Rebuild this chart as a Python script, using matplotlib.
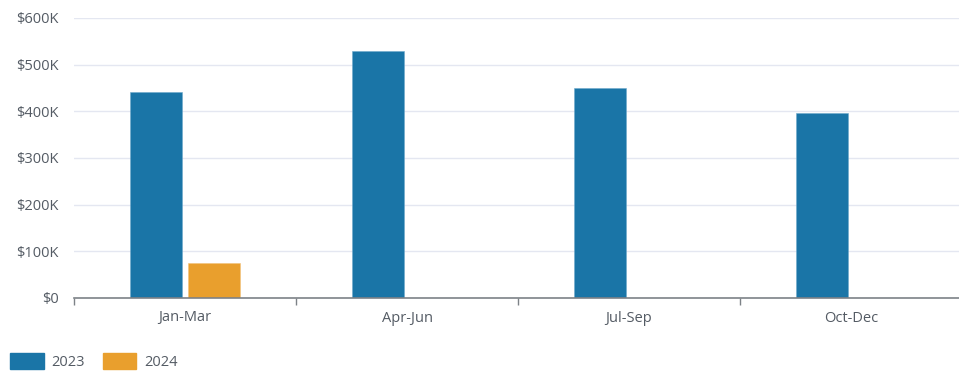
import matplotlib
matplotlib.use("Agg")
import matplotlib.pyplot as plt
from matplotlib.patches import Patch
from matplotlib.ticker import FuncFormatter, FixedLocator
import numpy as np

plt.rcParams['font.family'] = ['Open Sans', 'DejaVu Sans']

categories = ["Jan-Mar", "Apr-Jun", "Jul-Sep", "Oct-Dec"]
series_names = ["2023", "2024"]
values_2023 = [441000, 529000, 451000, 397000]
values_2024 = [76000, 0, 0, 0]
colors = ["#1a75a7", "#e99f2d"]
text_color = "#545b64"

fig = plt.figure(figsize=(9.59, 3.72), dpi=100)
W, H = 959, 372
ax = fig.add_axes([74 / W, 74 / H, (959 - 74) / W, 280 / H])

x = np.arange(len(categories))
bw = 0.234
off = 0.131
ax.bar(x - off, values_2023, width=bw, color=colors[0], edgecolor="#6fa9cc", linewidth=0.4, zorder=3)
ax.bar(x + off, values_2024, width=bw, color=colors[1], edgecolor="#f2c27c", linewidth=0.4, zorder=3)

ax.set_ylim(0, 600000)
ax.set_xlim(-0.5, -0.5 + (959 - 74) / 222)
ax.yaxis.set_major_locator(FixedLocator(np.arange(0, 600001, 100000)))
ax.yaxis.set_major_formatter(FuncFormatter(lambda v, p: "$0" if v == 0 else f"${int(v/1000)}K"))
ax.grid(axis="y", color="#e4e7f1", linewidth=1, zorder=0)
ax.tick_params(axis="y", length=0, pad=11, labelsize=10.5, labelcolor=text_color)

ax.xaxis.set_major_locator(FixedLocator([-0.5, 0.5, 1.5, 2.5]))
ax.xaxis.set_major_formatter(FuncFormatter(lambda v, p: ""))
ax.xaxis.set_minor_locator(FixedLocator(x))
ax.set_xticks(x, categories, minor=True)
ax.tick_params(axis="x", which="major", length=5, width=1, color="#7d8287", direction="out")
ax.tick_params(axis="x", which="minor", length=0, pad=9, labelsize=10.5, labelcolor=text_color)

for s in ["top", "right", "left"]:
    ax.spines[s].set_visible(False)
ax.spines["bottom"].set_color("#7d8287")
ax.spines["bottom"].set_linewidth(1.2)
ax.spines["bottom"].set_zorder(4)

handles = [Patch(facecolor=colors[0], edgecolor=colors[0]), Patch(facecolor=colors[1], edgecolor=colors[1])]
fig.legend(handles, series_names, loc="lower left", bbox_to_anchor=(-3 / W, -11 / H),
           frameon=False, ncol=2, fontsize=10.5, labelcolor=text_color,
           handlelength=2.3, handleheight=1.35, handletextpad=0.55, columnspacing=1.2)

fig.savefig("out.png", dpi=100)
